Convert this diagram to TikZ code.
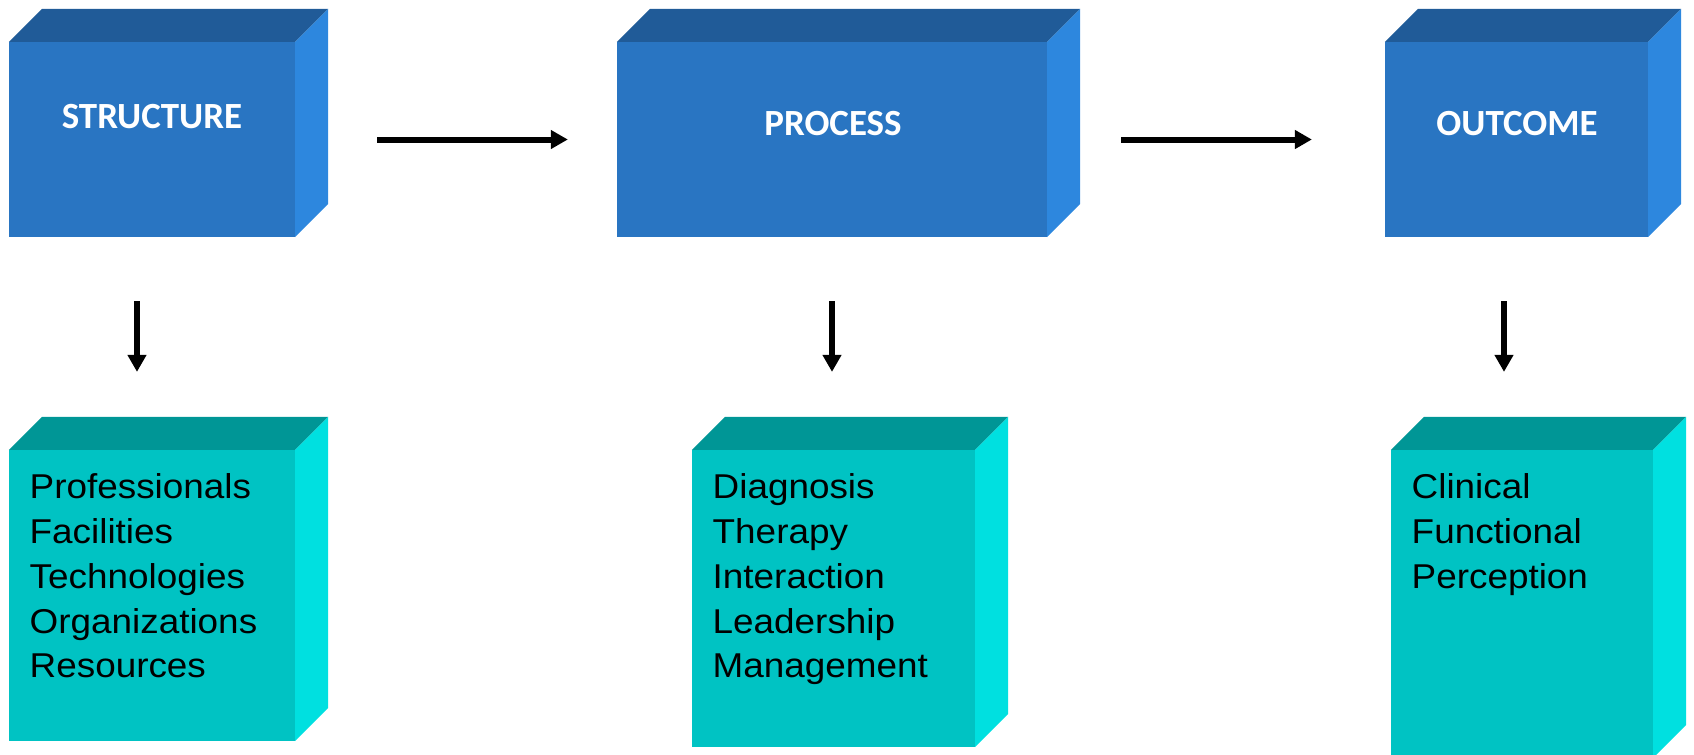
\documentclass[tikz,border=0pt]{standalone}
\usepackage{fontspec}
\setmainfont{Liberation Sans}
\newfontfamily\headfont{Carlito}
\newfontfamily\listfont[FakeStretch=1.07]{Liberation Sans}
\usepackage{tikz}
\usepackage{xcolor}
\usetikzlibrary{arrows.meta, positioning}

\definecolor{blueFront}{RGB}{41,117,194}
\definecolor{blueTop}{RGB}{32,91,152}
\definecolor{blueSide}{RGB}{45,135,222}
\definecolor{tealFront}{RGB}{0,195,195}
\definecolor{tealTop}{RGB}{0,150,150}
\definecolor{tealSide}{RGB}{0,224,224}

\begin{document}
\begin{tikzpicture}[x=0.01cm, y=-0.01cm,
    front/.style={inner sep=0pt, outer sep=0pt},
    title/.style={text=white, inner sep=0pt, font=\headfont\bfseries\fontsize{10.5}{12}\selectfont},
    items/.style={anchor=base west, align=left, inner sep=0pt, font=\listfont\fontsize{9.8}{12.72}\selectfont},
    flow/.style={line width=0.06cm, -{Triangle[length=0.17cm, width=0.18cm]}}]
\useasboundingbox (0,0) rectangle (1694,754);

% Top row: the three blocks
\node[front, fill=blueFront, minimum width=2.86cm, minimum height=1.95cm] (s) at (152,139.5) {};
\node[front, fill=blueFront, minimum width=4.30cm, minimum height=1.95cm] (p) at (832,139.5) {};
\node[front, fill=blueFront, minimum width=2.63cm, minimum height=1.95cm] (o) at (1516.5,139.5) {};

% Bottom row: what each block holds
\node[front, fill=tealFront, minimum width=2.86cm, minimum height=2.91cm] (b1) at (152,595.5) {};
\node[front, fill=tealFront, minimum width=2.83cm, minimum height=2.97cm] (b2) at (833.5,598.5) {};
\node[front, fill=tealFront, minimum width=2.62cm, minimum height=3.08cm] (b3) at (1522,604) {};

% Top and side faces
\foreach \n/\t/\r in {s/blueTop/blueSide, p/blueTop/blueSide, o/blueTop/blueSide,
                      b1/tealTop/tealSide, b2/tealTop/tealSide, b3/tealTop/tealSide} {
    \fill[\t] (\n.north west) -- ++(33,-33) -- ([shift={(33,-33)}]\n.north east) -- (\n.north east) -- cycle;
    \fill[\r] (\n.north east) -- ([shift={(33,-33)}]\n.north east) -- ([shift={(33,-33)}]\n.south east) -- (\n.south east) -- cycle;
}

% Titles
\node[title] (ts) at (152,116.5) {STRUCTURE};
\node[title] (tp) at (833,123.5) {PROCESS};
\node[title] (to) at (1517,123.5) {OUTCOME};

% Lists (base = last line)
\node[items] (ls) at (29,677.8) {Professionals\\Facilities\\Technologies\\Organizations\\Resources};
\node[items] (lp) at (712,677.8) {Diagnosis\\Therapy\\Interaction\\Leadership\\Management};
\node[items] (lo) at (1411,588.4) {Clinical\\Functional\\Perception};

% Flow between the blocks
\draw[flow, shorten <=0.82cm, shorten >=0.49cm] (s) -- (p);
\draw[flow, shorten <=0.74cm, shorten >=0.73cm] (p) -- (o);

% Downward arrows
\foreach \a/\b/\dx in {s/b1/-0.15cm, p/b2/0cm, o/b3/-0.125cm} {
    \coordinate (\a-out) at ([xshift=\dx]\a.south);
    \draw[flow, shorten <=0.64cm, shorten >=0.78cm] (\a-out) -- (\a-out |- \b.north);
}
\end{tikzpicture}
\end{document}
